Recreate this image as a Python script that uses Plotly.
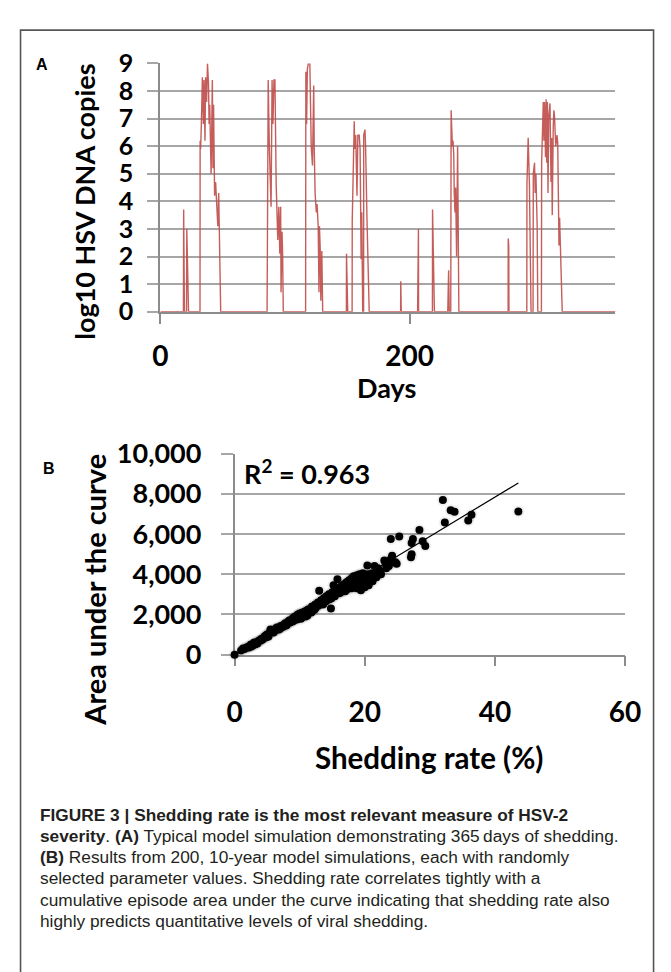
import plotly.graph_objects as go

W, H = 671, 972

# ---------------- Panel A data: typical 365-day simulation ----------------
days = [0, 18.5, 18.7, 19.3, 21.0, 21.2, 22.6,
        31.8, 31.9, 32.3, 32.9, 33.7, 34.5, 35.0, 35.8, 36.3, 37.1, 37.8, 38.6, 39.1, 39.6,
        40.7, 41.7, 42.2, 42.7, 43.5, 44.3, 45.3, 46.1, 46.8, 47.4, 47.9, 48.4,
        85.6, 85.8, 86.5, 87.4, 88.0, 88.8, 89.6, 90.3, 91.1, 91.9, 92.9, 94.2, 95.0, 95.8,
        96.5, 96.8, 97.6, 98.1, 98.6,
        116.5, 116.7, 117.3, 117.9, 118.7, 119.9, 120.5, 121.0, 122.0, 123.0, 123.4, 124.1,
        125.1, 125.7, 126.6, 127.2, 127.6, 128.2, 128.7, 129.5, 130.2,
        149.2, 149.3, 150.3,
        153.8, 153.9, 155.5, 155.9, 156.7, 157.7, 158.4, 159.5, 160.2, 161.0, 161.5, 162.3,
        163.0, 163.1, 164.1, 164.6, 165.7, 166.7, 167.5,
        192.7, 192.8, 193.2,
        206.3, 206.5, 207.0, 207.1,
        218.2, 218.3, 219.8,
        230.5, 230.6, 231.2, 231.7,
        232.9, 233.2, 234.2, 234.7, 235.3, 235.7, 236.3, 236.8, 237.6, 238.4, 238.6, 239.4,
        278.9, 279.0, 279.4, 279.6,
        293.9, 294.0, 295.0, 296.0, 297.3, 298.9, 299.1, 300.1, 300.6, 301.2, 302.2, 302.7,
        305.6, 305.8, 306.6, 307.1, 307.6, 308.1, 308.9, 309.4, 309.9, 310.4, 310.9, 311.5,
        312.5, 313.3, 313.8, 314.3, 315.1, 315.6, 316.1, 316.6, 317.1, 317.6, 318.1, 318.7,
        319.2, 319.7, 320.2, 320.7, 321.2, 321.7, 322.3,
        365]
log_copies = [0, 0, 3.7, 0, 0, 3.0, 0,
              0, 6.2, 5.9, 6.8, 8.5, 6.8, 8.4, 6.2, 8.5, 7.6, 9.0, 8.3, 6.8, 7.5,
              5.0, 8.4, 5.2, 7.5, 4.2, 4.7, 3.9, 3.1, 4.3, 2.0, 0.1, 0,
              0, 4.1, 8.4, 6.0, 4.7, 3.8, 8.4, 6.8, 8.4, 8.4, 4.6, 2.6, 3.8, 2.1,
              3.8, 0.7, 2.9, 2.0, 0,
              0, 8.7, 6.8, 8.8, 9.0, 9.0, 7.3, 6.0, 5.3, 8.2, 6.0, 4.3,
              3.6, 3.9, 3.1, 0.7, 3.1, 2.3, 0.4, 2.2, 0,
              0, 2.1, 0,
              0, 3.3, 6.9, 5.9, 6.4, 4.2, 6.4, 6.4, 5.9, 1.9, 3.6, 0,
              0, 6.4, 6.6, 6.0, 3.4, 1.3, 0,
              0, 1.1, 0,
              0, 2.7, 3.0, 0,
              0, 3.7, 0,
              0, 1.4, 1.5, 0,
              0, 7.3, 6.0, 6.2, 5.7, 4.3, 3.6, 4.5, 2.0, 6.0, 4.0, 0,
              0, 2.65, 2.4, 0,
              0, 4.6, 6.3, 4.6, 0, 0, 5.0, 5.4, 4.3, 5.0, 3.1, 0,
              0, 5.4, 7.1, 7.6, 6.2, 7.6, 5.6, 7.7, 5.4, 7.6, 4.3, 7.1,
              7.55, 4.7, 6.3, 3.5, 6.7, 7.3, 7.1, 6.4, 6.0, 6.2, 6.4, 6.1,
              4.8, 2.4, 3.4, 2.3, 2.3, 1.3, 0,
              0]
a_xticks = [0, 200]
a_yticks = list(range(0, 10))

# ---------------- Panel B data: 200 ten-year simulations ----------------
shed_rate = [0.0, 1.3, 1.7, 2.0, 2.2, 2.3, 2.6, 2.9, 3.0, 3.2,
             3.4, 3.5, 3.8, 4.0, 4.1, 4.4, 4.6, 4.8, 4.9, 5.1,
             5.2, 5.3, 5.5, 5.6, 5.8, 6.0, 6.1, 6.2, 6.4, 6.6,
             6.8, 6.9, 7.1, 7.3, 7.5, 7.6, 7.8, 8.0, 8.1, 8.2,
             8.4, 8.6, 8.8, 8.9, 9.0, 9.1, 9.3, 9.5, 9.6, 9.7,
             9.9, 10.0, 10.2, 10.3, 10.4, 10.6, 10.8, 10.9, 11.0, 11.2,
             11.3, 11.5, 11.6, 11.7, 11.9, 12.0, 12.2, 12.3, 12.4, 12.6,
             12.8, 12.9, 13.0, 13.1, 13.3, 13.5, 13.6, 13.7, 13.9, 14.1,
             14.2, 14.3, 14.5, 14.7, 14.8, 14.9, 15.0, 15.2, 15.3, 15.4,
             15.5, 15.7, 15.8, 16.0, 16.1, 16.2, 16.4, 16.5, 16.6, 16.8,
             17.0, 17.0, 17.2, 17.3, 17.4, 17.5, 17.6, 17.8, 17.9, 18.0,
             18.0, 18.1, 18.2, 18.3, 18.4, 18.5, 18.6, 18.7, 18.8, 18.8,
             18.9, 19.0, 19.1, 19.2, 19.3, 19.4, 19.4, 19.5, 19.6, 19.7,
             19.8, 19.9, 20.0, 20.0, 20.1, 20.2, 20.3, 20.4, 20.5, 20.6,
             20.7, 20.9, 21.1, 21.2, 21.3, 21.5, 21.6, 21.8, 21.9, 22.0,
             22.2, 22.5, 23.0, 23.2, 23.3, 23.5, 23.7, 24.0, 24.0, 24.2,
             24.4, 24.7, 24.9, 25.3, 27.1, 27.2, 27.2, 27.4, 28.4, 28.9,
             29.3, 32.0, 32.3, 33.2, 33.8, 35.9, 36.4, 43.6,
             1.0, 1.5, 2.5, 3.6, 4.3, 5.0, 5.9, 6.5, 7.0, 7.9,
             8.5, 9.2, 9.8, 10.5, 11.1, 11.8, 12.5, 13.2, 14.0, 14.6,
             16.3, 17.7]
auc = [0, 300, 330, 380, 350, 420, 400, 480, 600, 520,
       620, 560, 700, 700, 780, 820, 900, 950, 860, 980,
       900, 1050, 1250, 1120, 1180, 1100, 1200, 1230, 1300, 1260,
       1250, 1350, 1420, 1380, 1400, 1500, 1560, 1480, 1550, 1620,
       1700, 1650, 1760, 1650, 1820, 1700, 1900, 1850, 1750, 1980,
       1920, 2050, 1780, 1950, 2100, 2000, 2150, 1900, 2080, 1950,
       2250, 2180, 2150, 2300, 2400, 2200, 2350, 2250, 2500, 2450,
       2600, 2450, 3180, 2550, 2700, 2650, 2500, 2800, 2750, 2900,
       2700, 2850, 3000, 2950, 2300, 2800, 3100, 3450, 3000, 2900,
       3200, 3150, 3750, 3300, 3050, 3250, 3400, 3150, 3350, 3500,
       3450, 3150, 3600, 3250, 3550, 3300, 3700, 3650, 3400, 3800,
       3300, 3550, 3750, 3900, 3350, 3650, 3850, 3500, 3950, 3300,
       3700, 3450, 3800, 4000, 3600, 3900, 3200, 3300, 3750, 4050,
       3550, 3850, 3650, 3350, 3950, 3500, 3800, 4440, 4000, 3450,
       3700, 3900, 4050, 3650, 3850, 4410, 4000, 3850, 4100, 4300,
       4200, 4000, 4680, 4520, 4300, 4440, 4410, 4750, 5750, 4920,
       4600, 4600, 4520, 5880, 4840, 5000, 5560, 5750, 6200, 5640,
       5400, 7690, 6570, 7190, 7110, 6680, 6965, 7125,
       200, 280, 500, 650, 750, 1000, 1150, 1350, 1300, 1450,
       1600, 1800, 2000, 1900, 2200, 2100, 2350, 2600, 2650, 2750,
       3100, 3450]
trend_slope = 196.0      # AUC per % shedding (linear trend through origin)
trend_x_end = 43.6       # trend line drawn to the largest shedding rate
r2_label = "R<sup>2</sup> = 0.963"
b_xticks = [0, 20, 40, 60]
b_yticks = [0, 2000, 4000, 6000, 8000, 10000]

caption_lines = [
    "<b>FIGURE 3 | Shedding rate is the most relevant measure of HSV-2</b>",
    "<b>severity</b>. <b>(A)</b> Typical model simulation demonstrating 365\u2009days of shedding.",
    "<b>(B)</b> Results from 200, 10-year model simulations, each with randomly",
    "selected parameter values. Shedding rate correlates tightly with a",
    "cumulative episode area under the curve indicating that shedding rate also",
    "highly predicts quantitative levels of viral shedding.",
]

n = min(len(days), len(log_copies))
m = min(len(shed_rate), len(auc))

# ---------------- helpers for layout positions ----------------
def px(x):
    return x / W

def py(y):
    return 1 - y / H

CHART_FONT = "Lato"
RED = "rgba(192,80,77,0.92)"
GRID = "#a6a6a6"
AXIS = "#8c8c8c"

fig = go.Figure()
fig.add_trace(go.Scatter(x=days[:n], y=log_copies[:n], mode="lines",
                         line=dict(color=RED, width=1.4), xaxis="x", yaxis="y",
                         cliponaxis=False, hoverinfo="skip", showlegend=False))
fig.add_trace(go.Scatter(x=[0, trend_x_end], y=[0, trend_slope * trend_x_end], mode="lines",
                         line=dict(color="black", width=1.2), xaxis="x2", yaxis="y2",
                         hoverinfo="skip", showlegend=False))
fig.add_trace(go.Scatter(x=shed_rate[:m], y=auc[:m], mode="markers",
                         marker=dict(color="rgba(0,0,0,0.06)", size=12),
                         xaxis="x2", yaxis="y2", cliponaxis=False,
                         hoverinfo="skip", showlegend=False))
fig.add_trace(go.Scatter(x=shed_rate[:m], y=auc[:m], mode="markers",
                         marker=dict(color="black", size=8),
                         xaxis="x2", yaxis="y2", cliponaxis=False,
                         hoverinfo="skip", showlegend=False))

fig.update_layout(
    width=W, height=H, margin=dict(l=0, r=0, t=0, b=0),
    paper_bgcolor="white", plot_bgcolor="white", showlegend=False,
    xaxis=dict(domain=[px(158), px(630)], range=[0, 365], tickvals=a_xticks,
               showgrid=False, zeroline=False, showline=True, linecolor=AXIS, linewidth=2,
               ticks="outside", ticklen=10, tickwidth=1.5, tickcolor=AXIS,
               tickfont=dict(family=CHART_FONT, size=28, color="black", weight="bold"),
               ticklabelstandoff=9, anchor="y", layer="below traces", fixedrange=True),
    yaxis=dict(domain=[py(304), py(47)], range=[0, 9], tickvals=a_yticks,
               showgrid=True, gridcolor=GRID, gridwidth=2, zeroline=False,
               showline=True, linecolor=AXIS, linewidth=2,
               ticks="outside", ticklen=11, tickwidth=1.5, tickcolor=GRID,
               tickfont=dict(family=CHART_FONT, size=25, color="black", weight="bold"),
               ticklabelstandoff=9, anchor="x", layer="below traces",
               fixedrange=True),
    xaxis2=dict(domain=[px(235), px(640)], range=[0, 60], tickvals=b_xticks,
                showgrid=False, zeroline=False, showline=True, linecolor=AXIS, linewidth=1.5,
                ticks="outside", ticklen=10, tickwidth=1.5, tickcolor=AXIS,
                tickfont=dict(family=CHART_FONT, size=28, color="black", weight="bold"),
                ticklabelstandoff=22, anchor="y2", layer="below traces", fixedrange=True),
    yaxis2=dict(domain=[py(659), py(451)], range=[0, 10000], tickvals=b_yticks,
                tickformat=",d", showgrid=True, gridcolor=GRID, gridwidth=1.5, zeroline=False,
                showline=True, linecolor=AXIS, linewidth=1.5,
                ticks="outside", ticklen=12, tickwidth=1.5, tickcolor=GRID,
                tickfont=dict(family=CHART_FONT, size=27, color="black", weight="bold"),
                ticklabelstandoff=14, anchor="x2", layer="below traces",
                fixedrange=True),
)

annotations = []

def ann(text, x, y, size, family=CHART_FONT, xanchor="center", yanchor="middle", angle=0,
        color="black"):
    annotations.append(dict(text=text, x=px(x), y=py(y), xref="paper", yref="paper",
                            xanchor=xanchor, yanchor=yanchor, textangle=angle,
                            showarrow=False, font=dict(family=family, size=size, color=color)))

# panel labels
ann("<b>A</b>", 27, 48, 16, family="Liberation Sans", xanchor="left")
ann("<b>B</b>", 34, 466, 16, family="Liberation Sans", xanchor="left")
# panel A titles
ann("<b>log10 HSV DNA copies</b>", 79, 190, 27, angle=-90)
ann("<b>Days</b>", 393, 382, 27)
# panel B titles
ann("<b>Area under the curve</b>", 90, 592, 29, angle=-90)
ann("<b>Shedding rate (%)</b>", 437, 765, 29.5)
ann("<b>" + r2_label + "</b>", 243, 470, 27, xanchor="left")

# caption
cap_y = [825, 847, 868.5, 890.5, 912.5, 934.5]
for line, yy in zip(caption_lines, cap_y):
    ann(line, 31, yy, 17.3, family="Liberation Sans", xanchor="left", color="#231f20")

fig.update_layout(annotations=annotations)

# outer frame
fig.add_shape(type="rect", xref="paper", yref="paper", x0=px(13), x1=px(669.5),
              y0=py(990), y1=py(12.5), line=dict(color="#555555", width=1.6),
              fillcolor="rgba(0,0,0,0)", layer="above")

fig.write_html("out.html")
